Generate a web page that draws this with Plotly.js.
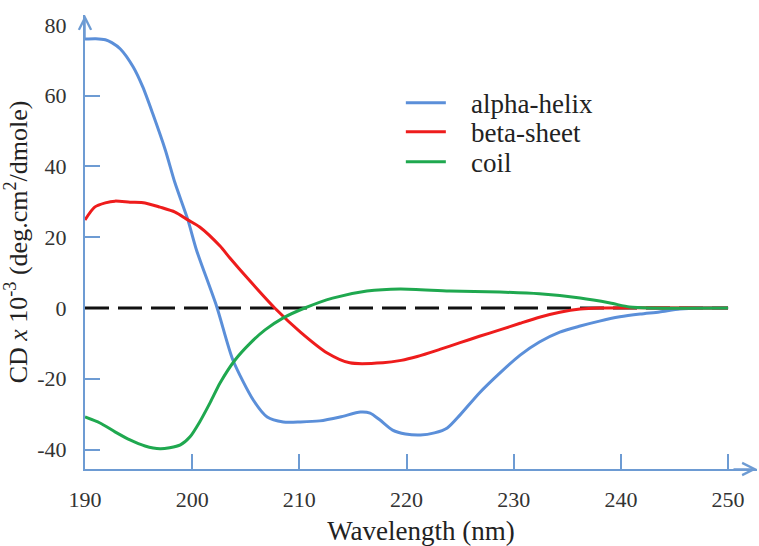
<!DOCTYPE html>
<html>
<head>
<meta charset="utf-8">
<script src="https://cdn.plot.ly/plotly-3.0.1.min.js"></script>
<style>html,body{margin:0;padding:0;background:#fff;}#chart{width:759px;height:546px;}</style>
</head>
<body>
<div id="chart"></div>
<script>
// Wavelength (nm) and CD x 10^-3 values
const helixWl = [190, 191.0, 191.9, 192.5, 193.3, 194.5, 195.4, 196.3, 197.5, 198.4, 199.6, 200.4, 202.3, 203.8, 205.7, 207.0, 208.5, 210.1, 211.9, 213.8, 215.7, 216.6, 217.5, 218.7, 219.9, 221.3, 222.6, 223.8, 225.0, 226.8, 228.7, 230.6, 232.4, 234.3, 236.2, 238.0, 239.9, 241.8, 243.6, 245.5, 247.4, 250];
const helixCD = [76.0, 76.1, 75.8, 75.0, 73.2, 68.1, 62.4, 55.1, 44.6, 35.3, 24.9, 16.4, 0.3, -14.7, -26.0, -30.8, -32.2, -32.2, -31.9, -30.8, -29.4, -29.7, -31.6, -34.5, -35.6, -35.9, -35.3, -33.9, -30.2, -24.0, -18.4, -13.3, -9.6, -6.8, -5.1, -3.7, -2.5, -1.7, -1.1, -0.3, 0, 0];

const sheetWl = [190, 190.9, 191.9, 192.8, 194.2, 195.6, 197.0, 198.4, 199.6, 200.7, 202.6, 203.5, 205.4, 207.7, 210.1, 212.6, 214.7, 217.8, 219.5, 221.0, 223.1, 225.0, 226.8, 228.7, 230.6, 232.4, 234.3, 236.2, 238.0, 250];
const sheetCD = [24.9, 28.5, 29.7, 30.2, 29.9, 29.7, 28.5, 27.1, 24.9, 22.9, 17.5, 14.2, 7.6, 0, -6.8, -12.7, -15.5, -15.5, -14.8, -13.7, -11.7, -9.8, -8.0, -6.2, -4.3, -2.6, -1.2, -0.3, 0, 0];

const coilWl = [190, 191.4, 192.8, 194.2, 195.6, 197.0, 197.9, 198.9, 199.8, 200.7, 201.7, 202.6, 204.0, 205.4, 206.8, 208.5, 210.5, 213.1, 216.3, 219.4, 224.0, 228.7, 232.4, 236.2, 239.0, 240.8, 242.7, 250];
const coilCD = [-30.8, -32.5, -35.0, -37.3, -39.0, -39.8, -39.5, -38.7, -36.4, -32.2, -26.6, -21.2, -14.7, -10.0, -6.2, -2.8, 0, 2.8, 4.8, 5.4, 4.8, 4.5, 4.0, 2.8, 1.4, 0.3, 0, 0];

const baseWl = [190, 250];
const baseCD = [0, 0];

const xTickVals = [190, 200, 210, 220, 230, 240, 250];
const xTickText = ['190', '200', '210', '220', '230', '240', '250'];
const xTickMarks = [200, 210, 220, 230, 240, 250];
const yTickVals = [-40, -20, 0, 20, 40, 60, 80];
const yTickText = ['-40', '-20', '0', '20', '40', '60', '80'];
const yTickMarks = [-40, -20, 20, 40, 60];

const seriesNames = ['alpha-helix', 'beta-sheet', 'coil'];

const axisColor = '#6d9bd3';
const serif = 'Liberation Serif';
const pad = '\u00a0\u00a0\u00a0';

const traces = [
  {x: baseWl, y: baseCD, mode: 'lines', showlegend: false, hoverinfo: 'skip',
   line: {color: '#111', width: 3, dash: '24px,9px'}},
  {x: helixWl, y: helixCD, name: pad + seriesNames[0], mode: 'lines', legend: 'legend',
   line: {color: '#5b8fd9', width: 3, shape: 'spline', smoothing: 0.7}},
  {x: sheetWl, y: sheetCD, name: pad + seriesNames[1], mode: 'lines', legend: 'legend2',
   line: {color: '#ee1c1c', width: 3, shape: 'spline', smoothing: 0.7}},
  {x: coilWl, y: coilCD, name: pad + seriesNames[2], mode: 'lines', legend: 'legend3',
   line: {color: '#1fa84f', width: 3, shape: 'spline', smoothing: 0.7}}
];

function legendAt(y) {
  return {
    x: 0.47, y: y, xanchor: 'left', yanchor: 'middle',
    bgcolor: 'rgba(0,0,0,0)', borderwidth: 0,
    font: {family: serif, size: 27, color: '#222'},
    itemwidth: 40
  };
}

const layout = {
  width: 759, height: 546,
  margin: {l: 85, r: 2, t: 15, b: 77},
  paper_bgcolor: '#fff', plot_bgcolor: '#fff',
  font: {family: serif, color: '#222'},
  showlegend: true,
  xaxis: {
    range: [190, 252.7], showgrid: false, zeroline: false,
    showline: true, linecolor: axisColor, linewidth: 2,
    tickmode: 'array', tickvals: xTickVals, ticktext: xTickText, ticks: '',
    ticklabelstandoff: 10,
    tickfont: {family: serif, size: 22, color: '#333'},
    minor: {tickmode: 'array', tickvals: xTickMarks, ticks: 'inside', ticklen: 15, tickwidth: 2, tickcolor: axisColor, showgrid: false},
    title: {text: 'Wavelength (nm)\u00a0\u00a0\u00a0\u00a0', font: {family: serif, size: 27, color: '#222'}, standoff: 11}
  },
  yaxis: {
    range: [-45.5, 82.8], showgrid: false, zeroline: false,
    showline: true, linecolor: axisColor, linewidth: 2,
    tickmode: 'array', tickvals: yTickVals, ticktext: yTickText, ticks: '',
    ticklabelstandoff: 12,
    tickfont: {family: serif, size: 22, color: '#333'},
    minor: {tickmode: 'array', tickvals: yTickMarks, ticks: 'inside', ticklen: 15, tickwidth: 2, tickcolor: axisColor, showgrid: false},
    title: {text: 'CD <i>x</i> 10<sup>-3</sup> (deg.cm<sup>2</sup>/dmole)', font: {family: serif, size: 26, color: '#222'}, standoff: 8}
  },
  legend: legendAt(0.806),
  legend2: legendAt(0.742),
  legend3: legendAt(0.676),
  annotations: [
    {xref: 'x', yref: 'y', x: 190, y: 82.8, ax: 0, ay: 25, text: '', showarrow: true,
     arrowhead: 5, arrowsize: 1.6, arrowwidth: 1.5, arrowcolor: axisColor},
    {xref: 'x', yref: 'y', x: 252.7, y: -45.5, ax: -25, ay: 0, text: '', showarrow: true,
     arrowhead: 5, arrowsize: 1.6, arrowwidth: 1.5, arrowcolor: axisColor}
  ]
};

Plotly.newPlot('chart', traces, layout, {displayModeBar: false, staticPlot: true});
</script>
</body>
</html>
